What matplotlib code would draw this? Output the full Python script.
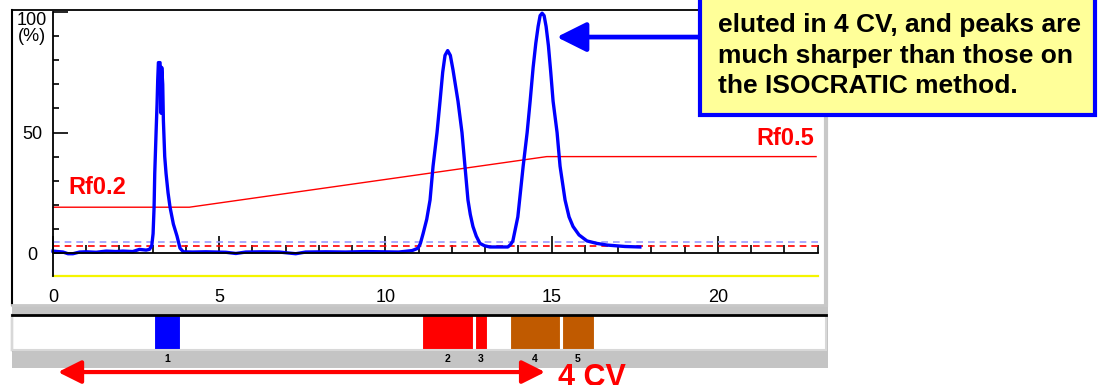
import matplotlib.pyplot as plt
from matplotlib.patches import Rectangle
import matplotlib.transforms as mtransforms

plt.rcParams['font.family'] = ['Liberation Sans', 'DejaVu Sans']

# chromatogram trace (CV, % absorbance)
trace_x = [0.0, 0.3, 0.45, 0.6, 0.8, 1.0, 1.3, 1.6, 1.9, 2.1, 2.4, 2.6, 2.8, 2.9,
           2.97, 3.01, 3.04, 3.06, 3.10, 3.13, 3.15, 3.17, 3.22, 3.25, 3.27, 3.30,
           3.32, 3.36, 3.40, 3.46, 3.52, 3.62, 3.73, 3.82, 3.92, 4.2, 4.6, 5.2,
           5.5, 5.8, 6.3, 6.8, 7.3, 7.6, 8.2, 8.8, 9.4, 9.9, 10.4, 10.8, 10.98,
           11.05, 11.13, 11.24, 11.34, 11.43, 11.55, 11.64, 11.72, 11.79, 11.87,
           11.95, 12.03, 12.18, 12.30, 12.39, 12.48, 12.55, 12.63, 12.73, 12.84,
           12.98, 13.14, 13.68, 13.76, 13.83, 13.98, 14.14, 14.26, 14.35, 14.44,
           14.52, 14.59, 14.65, 14.71, 14.77, 14.83, 14.90, 14.97, 15.04, 15.16,
           15.25, 15.40, 15.52, 15.64, 15.82, 16.06, 16.35, 16.66, 17.2, 17.65]
trace_y = [0.8, 0.4, -0.3, -0.3, 0.4, 0.5, 0.3, 0.8, 0.6, 0.8, 0.6, 1.5, 1.2, 1.5,
           3, 8, 19, 33, 50, 62, 72, 79, 79, 58, 77, 70,
           55, 40, 33, 25, 19, 12, 7, 2, 0.5, 0.4, 0.5, 0.3,
           -0.2, 0.4, 0.5, 0.4, -0.3, 0.4, 0.5, 0.4, 0.6, 0.5, 0.4, 1.0, 2,
           4, 8, 14, 22, 36, 50, 63, 75, 82, 84,
           82, 76, 63, 50, 36, 22, 16, 11, 7, 4,
           3, 2.5, 2.5, 3.5, 5, 15, 36, 50, 63, 77,
           87, 94, 98.5, 99.5, 98.5, 94, 86, 75, 63, 50,
           36, 22, 15, 11, 7.5, 5, 4, 3.3, 2.7, 2.5]

# solvent gradient (Rf)
grad_x = [0, 4.1, 14.85, 22.95]
grad_y = [19, 19, 40, 40]

thresh_red = 3.0
thresh_blue = 4.4
yellow_level = -9.5

# fractions
frac_start = [3.04, 11.10, 12.69, 13.74, 15.31]
frac_end = [3.82, 12.63, 13.05, 15.25, 16.27]
frac_colors = ['#0000ff', '#ff0000', '#ff0000', '#c05a00', '#c05a00']
frac_labels = ['1', '2', '3', '4', '5']

W, H = 1102, 385
X0, XS, Y0, YS = 53, 33.25, 253, 2.41


def fx(px):
    return px / W


def fy(py):
    return 1 - py / H


fig = plt.figure(figsize=(W / 100, H / 100), dpi=100)

# grey panel band behind the fraction strip
fig.add_artist(Rectangle((fx(12), fy(368)), (828 - 12) / W, (368 - 305) / H,
                         transform=fig.transFigure, fc='#c4c4c4', ec='none', zorder=0))

ax = fig.add_axes([fx(12), fy(305), (826 - 12) / W, (305 - 10) / H])
ax.set_xlim((12 - X0) / XS, (826 - X0) / XS)
ax.set_ylim((Y0 - 305) / YS, (Y0 - 10) / YS)
ax.set_facecolor('white')

ax.spines['left'].set_position(('data', 0))
ax.spines['bottom'].set_position(('data', 0))
ax.spines['left'].set_bounds(yellow_level, 100)
ax.spines['bottom'].set_bounds(0, 23)
for s in ['left', 'bottom', 'top']:
    ax.spines[s].set_color('black')
    ax.spines[s].set_linewidth(1.3)
ax.spines['right'].set_color('#c8c8c8')
ax.spines['right'].set_linewidth(3)
ax.plot([0, 0], [0, 1], transform=ax.transAxes, color='black', lw=1.5, clip_on=False)
ax.plot([0, 1], [0, 0], transform=ax.transAxes, color='#c8c8c8', lw=2, clip_on=False)

ax.set_xticks([0, 5, 10, 15, 20])
ax.set_xticks(range(24), minor=True)
ax.set_yticks([0, 50, 100])
ax.set_yticks(range(0, 101, 10), minor=True)
ax.set_yticklabels(['0', '50', '100\n(%)'], ha='center')
ax.tick_params(axis='x', which='major', direction='in', length=12, width=1.2,
               pad=26, labelsize=13)
ax.tick_params(axis='x', which='minor', direction='in', length=6, width=1.2)
ax.tick_params(axis='y', which='major', direction='in', length=11, width=1.2,
               pad=15, labelsize=13)
ax.tick_params(axis='y', which='minor', direction='in', length=4.5, width=1.2)
top_lbl = ax.get_yticklabels()[-1]
top_lbl.set_va('top')
top_lbl.set_linespacing(0.95)

ax.plot([0, 23], [yellow_level] * 2, color='#f5f500', lw=1.6)
ax.plot([0, 23], [thresh_blue] * 2, color='#9a9aff', lw=1.2, dashes=(4, 3))
ax.plot([0, 23], [thresh_red] * 2, color='#ff0000', lw=1.2, dashes=(4, 3))
ax.plot(grad_x, grad_y, color='#ff0000', lw=1.0)
ax.plot(trace_x, trace_y, color='#0000ff', lw=2.4)

ax.text(0.45, 27, 'Rf0.2', color='#ff0000', fontsize=17, fontweight='bold', va='center')
ax.text(22.9, 47.7, 'Rf0.5', color='#ff0000', fontsize=17, fontweight='bold',
        va='center', ha='right')

# arrow from the note to the last peak
ax.annotate('', xy=(15.15, 89.6), xytext=(19.6, 89.6),
            arrowprops=dict(arrowstyle='-|>,head_length=0.9,head_width=0.45',
                            color='#0000ff', lw=3.4, shrinkA=0, shrinkB=0,
                            mutation_scale=20),
            annotation_clip=False)

# fraction strip
ax2 = fig.add_axes([fx(12), fy(350), (826 - 12) / W, (350 - 315) / H])
ax2.set_xlim(ax.get_xlim())
ax2.set_ylim(0, 1)
ax2.set_xticks([])
ax2.set_yticks([])
for s in ['left', 'right', 'bottom']:
    ax2.spines[s].set_color('#d8d8d8')
    ax2.spines[s].set_linewidth(1.5)
ax2.spines['top'].set_color('black')
ax2.spines['top'].set_linewidth(2)
ax2.plot([0, 0], [0, 1], transform=ax2.transAxes, color='black', lw=1.5, clip_on=False)

blend2 = mtransforms.blended_transform_factory(ax2.transData, ax2.transAxes)
for s0, s1, c, lab in zip(frac_start, frac_end, frac_colors, frac_labels):
    ax2.broken_barh([(s0, s1 - s0)], (0, 1), facecolors=c, edgecolor='white', lw=0.8)
    ax2.text((s0 + s1) / 2, -0.12, lab, fontsize=7.5, fontweight='bold',
             va='top', ha='center', transform=blend2)

ax2.annotate('', xy=(0.15, -0.63), xytext=(14.8, -0.63),
             xycoords=blend2, textcoords=blend2,
             arrowprops=dict(arrowstyle='<|-|>,head_length=0.7,head_width=0.35',
                             color='#ff0000', lw=3, shrinkA=0, shrinkB=0,
                             mutation_scale=20),
             annotation_clip=False)
ax2.text(15.2, -1.03, '4 CV', color='#ff0000', fontsize=22, fontweight='bold',
         va='baseline', ha='left', transform=blend2, clip_on=False)

# note box
fig.add_artist(Rectangle((fx(700), fy(115)), (1095 - 700) / W, (115 + 10) / H,
                         transform=fig.transFigure, fc='#ffff99', ec='#0000ff',
                         lw=3, zorder=2))
note_lines = ['eluted in 4 CV, and peaks are',
              'much sharper than those on',
              'the ISOCRATIC method.']
for i, line in enumerate(note_lines):
    fig.text(fx(718), fy(32 + 30.5 * i), line, fontsize=19, fontweight='bold',
             va='baseline', ha='left', zorder=3)

fig.savefig('out.png', dpi=100)
